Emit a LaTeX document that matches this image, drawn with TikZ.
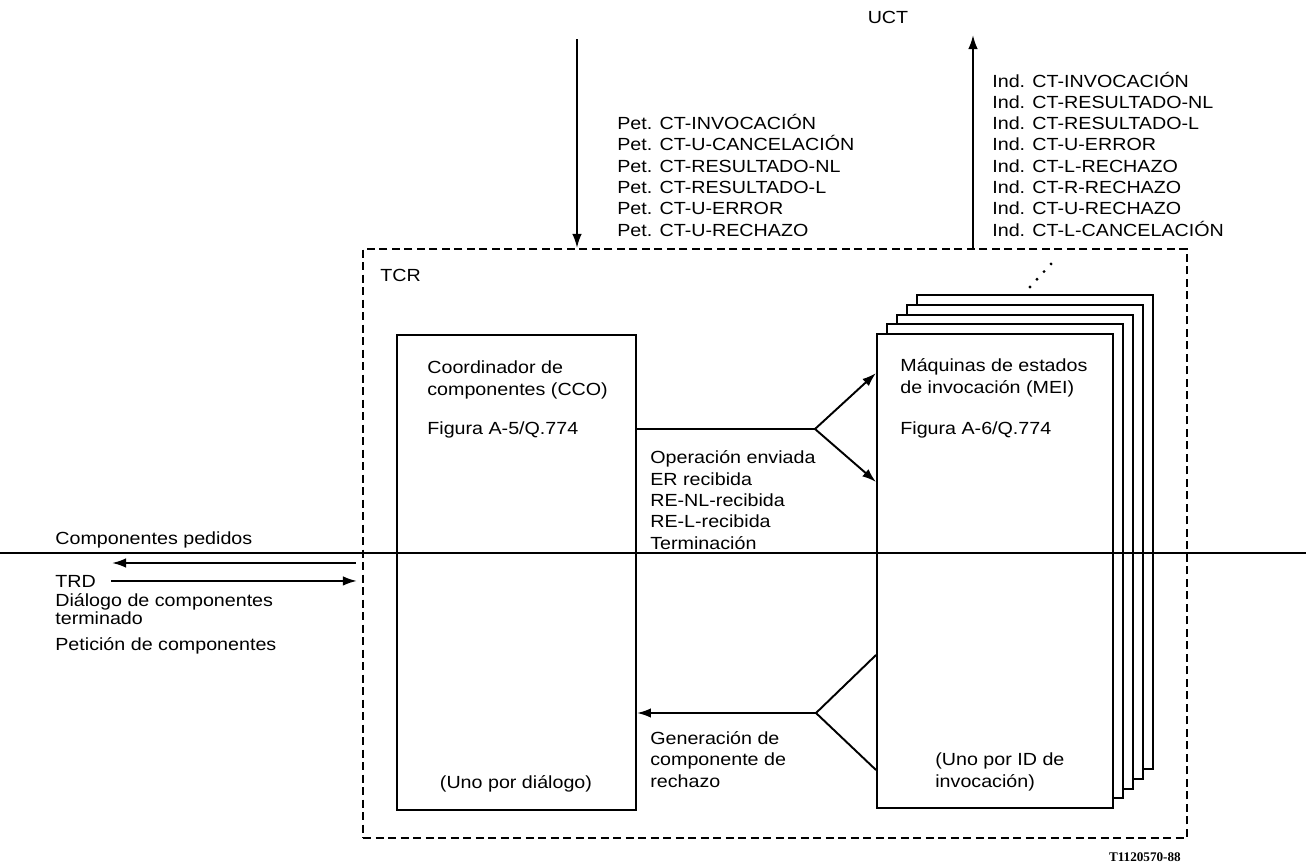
\documentclass[tikz,border=0pt]{standalone}
\usepackage{fontspec}
\setmainfont{Liberation Sans}[FakeStretch=1.12]
\newfontfamily\tagfont{Liberation Serif}
\usetikzlibrary{arrows.meta,fit,positioning}
\tikzset{
    tcbox/.style={draw, line width=1.1pt, inner sep=0pt},
    tcframe/.style={draw, line width=1.2pt, dash pattern=on 1.6mm off 0.9mm, inner sep=0pt},
    tcarrow/.style={-{Latex[length=2.8mm,width=1.9mm]}, line width=1.1pt},
    tcline/.style={line width=1.1pt},
    tctext/.style={align=left, inner sep=0pt, anchor=base west}
}

\begin{document}
\begin{tikzpicture}[x=0.2mm, y=-0.2mm, font=\fontsize{10}{12.1}\selectfont]
    \useasboundingbox (0,0) rectangle (1306,867);
    % corners of the boxes
    \coordinate (tcrnw) at (363,249);
    \coordinate (tcrse) at (1187,838);
    \coordinate (cconw) at (397,335);
    \coordinate (ccose) at (636,810);
    \coordinate (meinw) at (877,334);
    \coordinate (meise) at (1113,808);

    \node[tcframe, fit=(tcrnw)(tcrse)] (tcr) {};
    \node[tcbox, fit=(cconw)(ccose)] (cco) {};
    \foreach \k in {4,3,2,1}
        \draw[tcbox, fill=white] ([shift={(10*\k,-9.7*\k)}]meinw)
            rectangle ([shift={(10*\k,-9.7*\k)}]meise);
    \node[tcbox, fill=white, fit=(meinw)(meise)] (mei) {};
    \foreach \t in {0,1,2,3}
        \fill (1030+7*\t,287-7.7*\t) circle[radius=1.6];

    % UCT side (multi-line texts sit on their last line)
    \node[anchor=base] (uct) at (888,24) {UCT};
    \coordinate (pettop) at (577,39);
    \coordinate (indtop) at (973,35);
    \draw[tcarrow] (pettop) -- (pettop |- tcr.north);
    \draw[tcarrow] (indtop |- tcr.north) -- (indtop);
    \node[tctext] (pet) at (617,236)
        {Pet. CT-INVOCACIÓN\\Pet. CT-U-CANCELACIÓN\\Pet. CT-RESULTADO-NL\\%
         Pet. CT-RESULTADO-L\\Pet. CT-U-ERROR\\Pet. CT-U-RECHAZO};
    \node[tctext] (ind) at (992,236)
        {Ind. CT-INVOCACIÓN\\Ind. CT-RESULTADO-NL\\Ind. CT-RESULTADO-L\\%
         Ind. CT-U-ERROR\\Ind. CT-L-RECHAZO\\Ind. CT-R-RECHAZO\\%
         Ind. CT-U-RECHAZO\\Ind. CT-L-CANCELACIÓN};

    \node[tctext] (tcrlabel) at (380,281) {TCR};

    % box texts
    \node[tctext] (cconame) at (427,395) {Coordinador de\\componentes (CCO)};
    \node[tctext] (ccofig) at (427,434) {Figura A-5/Q.774};
    \node[anchor=base] (ccoone) at (516,788) {(Uno por diálogo)};
    \node[tctext] (meiname) at (900,393) {Máquinas de estados\\de invocación (MEI)};
    \node[tctext] (meifig) at (900,434) {Figura A-6/Q.774};
    \node[tctext] (meione) at (935,787) {(Uno por ID de\\invocación)};

    % forks between CCO and MEI
    \coordinate (forka) at (815,429);
    \draw[tcline] (cco.east |- forka) -- (forka);
    \draw[tcarrow] (forka) -- (mei.west |- 0,373);
    \draw[tcarrow] (forka) -- (mei.west |- 0,482);
    \node[tctext] (oplist) at (650,549)
        {Operación enviada\\ER recibida\\RE-NL-recibida\\RE-L-recibida\\Terminación};

    \coordinate (forkb) at (816,713);
    \draw[tcline] (mei.west |- 0,655) -- (forkb) -- (mei.west |- 0,770);
    \draw[tcarrow] (forkb) -- (cco.east |- forkb);
    \node[tctext] (rejlist) at (650,787) {Generación de\\componente de\\rechazo};

    % TRD side
    \node[tctext] (cpedidos) at (55,544) {Componentes pedidos};
    \coordinate (cpend) at (112,563);
    \draw[tcarrow, shorten <=1.2mm] (tcr.west |- cpend) -- (cpend);
    \node[tctext] (trd) at (55,587) {TRD};
    \draw[tcarrow, shorten <=3mm, shorten >=1mm] (trd.east) -- (tcr.west |- trd.east);
    \node[tctext] (dlgend) at (55,624) {Diálogo de componentes\\[-0.8mm]terminado};
    \node[tctext] (petcomp) at (55,650) {Petición de componentes};

    \coordinate (hleft) at (0,553);
    \coordinate (hright) at (1306,553);
    \draw[line width=0.6pt] (hleft) -- (hright);

    \node[anchor=east, font={\fontsize{7.5}{9}\selectfont\tagfont\bfseries}] (tag)
        at (1187,857) {T1120570-88};
\end{tikzpicture}
\end{document}
